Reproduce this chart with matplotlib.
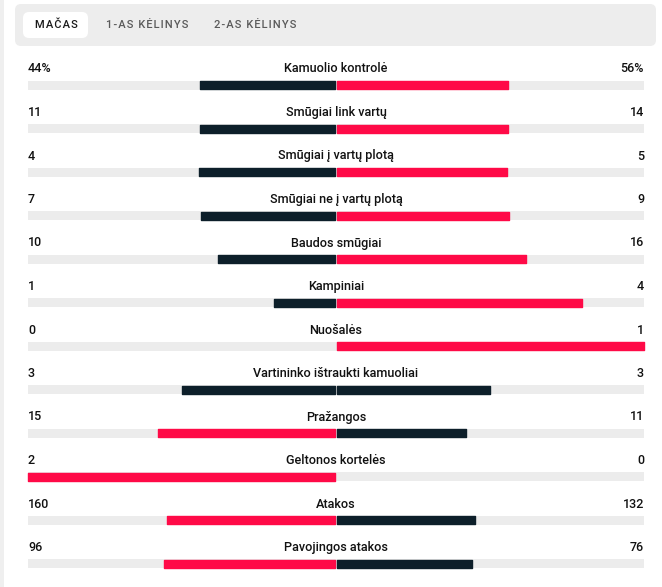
import matplotlib.pyplot as plt
from matplotlib.patches import FancyBboxPatch, Rectangle

plt.rcParams['font.family'] = ['Roboto', 'DejaVu Sans']

### match statistics
labels = ["Kamuolio kontrolė", "Smūgiai link vartų", "Smūgiai į vartų plotą",
          "Smūgiai ne į vartų plotą", "Baudos smūgiai", "Kampiniai", "Nuošalės",
          "Vartininko ištraukti kamuoliai", "Pražangos", "Geltonos kortelės",
          "Atakos", "Pavojingos atakos"]
home = [44, 11, 4, 7, 10, 1, 0, 3, 15, 2, 160, 96]
away = [56, 14, 5, 9, 16, 4, 1, 3, 11, 0, 132, 76]
suffix = ["%", "", "", "", "", "", "", "", "", "", "", ""]
tabs = ["MAČAS", "1-AS KĖLINYS", "2-AS KĖLINYS"]

RED = "#ff0a47"
NAVY = "#0d1f2a"
GREY = "#ececec"

W, H = 662, 587
fig = plt.figure(figsize=(W / 100, H / 100), dpi=100)
ax = fig.add_axes([0, 0, 1, 1])
ax.set_xlim(0, W)
ax.set_ylim(H, 0)
ax.axis("off")

# left page strip
ax.add_patch(Rectangle((0, 0), 4, H, color="#efefef", lw=0))

# tab bar
ax.add_patch(FancyBboxPatch((15, 4), 641, 42, boxstyle="round,pad=0,rounding_size=6",
                            fc="#ededed", ec="none"))
ax.add_patch(FancyBboxPatch((23, 12), 65, 26, boxstyle="round,pad=0,rounding_size=6",
                            fc="white", ec="none"))
tab_x = [56, 147, 255]
for i, t in enumerate(tabs):
    ax.text(tab_x[i], 25, "\u200a".join(t), ha="center", va="center",
            fontsize=8, color="#1a1a1a" if i == 0 else "#5a5a5a", fontweight="medium")

# stat rows
center = 336
half = 308
y0 = 69
step = 43.5
bh = 9
for i, lab in enumerate(labels):
    ty = y0 + i * step
    by = ty + 16
    h, a = home[i], away[i]
    tot = h + a
    ax.text(28, ty, f"{h}{suffix[i]}", ha="left", va="center", fontsize=9,
            color="#111111", fontweight="medium")
    ax.text(644, ty, f"{a}{suffix[i]}", ha="right", va="center", fontsize=9,
            color="#111111", fontweight="medium")
    ax.text(center, ty, lab, ha="center", va="center", fontsize=9.1,
            color="#111111", fontweight="medium")
    ax.barh(by, 2 * half, left=center - half, height=bh, color=GREY, lw=0)
    hs = h / tot if tot else 0
    as_ = a / tot if tot else 0
    hc = RED if h > a else NAVY
    ac = RED if a > h else NAVY
    if h > 0:
        ax.barh(by, -(hs * half - 1), left=center - 1, height=bh - 1, color=hc,
                ec=hc, lw=1, joinstyle="round")
    if a > 0:
        ax.barh(by, as_ * half - 1, left=center + 1, height=bh - 1, color=ac,
                ec=ac, lw=1, joinstyle="round")

fig.savefig("out.png", dpi=100)
